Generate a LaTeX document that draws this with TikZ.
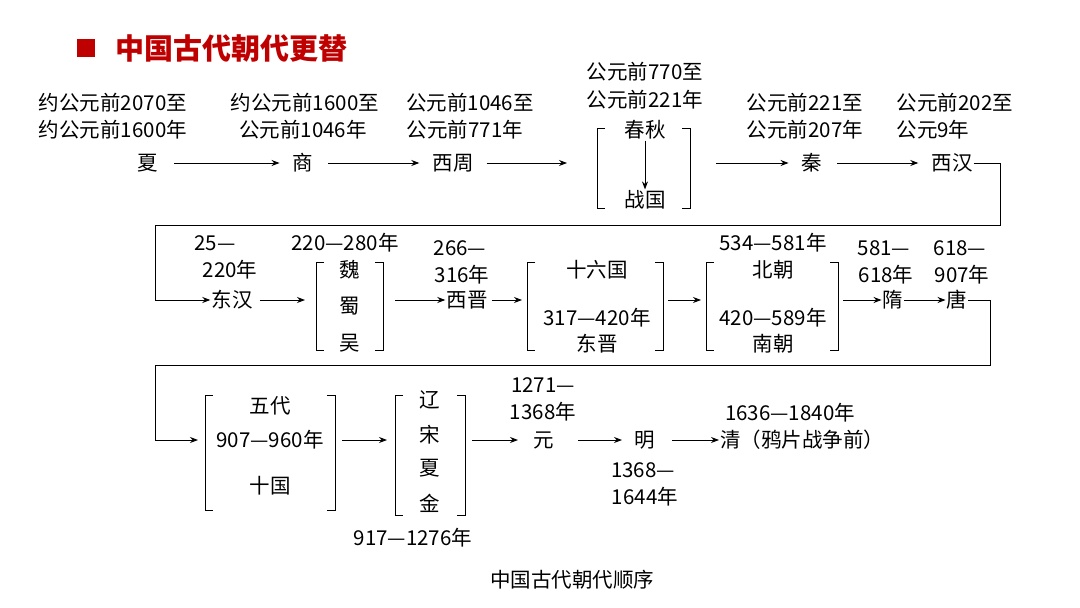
\documentclass[tikz,border=0pt]{standalone}
\usepackage{fontspec}
\setmainfont{Noto Sans CJK SC}
\usetikzlibrary{arrows.meta}
\begin{document}
\begin{tikzpicture}[x=1pt,y=-1pt,
  t/.style={inner sep=1pt,font=\fontsize{20.5}{22}\selectfont},
  ar/.style={-{Stealth[length=8pt,width=6pt]},line width=0.9pt},
  ln/.style={line width=0.9pt}]
\useasboundingbox (0,0) rectangle (1080,608);
\newcommand{\brk}[4]{%
 \draw[ln] (#1+8,#3)--(#1,#3)--(#1,#4)--(#1+8,#4);
 \draw[ln] (#2-8,#3)--(#2,#3)--(#2,#4)--(#2-8,#4);}
% title
\fill[red!75!black] (77,39) rectangle (95,57);
\node[anchor=west,text=red!75!black,font=\fontsize{29}{31}\selectfont\bfseries] (title) at (112,48) {中国古代朝代更替};
% row 1
\node[t] (xia) at (148,163) {夏};
\node[t] at (113,103) {约公元前2070至};
\node[t] at (113,130) {约公元前1600年};
\node[t] (shang) at (303,163) {商};
\node[t] at (305,103) {约公元前1600至};
\node[t] at (303,130) {公元前1046年};
\node[t] (xz) at (453,163) {西周};
\node[t] at (470,103) {公元前1046至};
\node[t] at (465,130) {公元前771年};
\coordinate (b1l) at (597,163);
\node[t] (cq) at (645,130) {春秋};
\node[t] (zg) at (645,200) {战国};
\brk{597}{690}{128}{208}
\coordinate (b1r) at (690,163);
\node[t] at (645,72) {公元前770至};
\node[t] at (645,100) {公元前221年};
\node[t] (qin) at (812,163) {秦};
\node[t] at (805,103) {公元前221至};
\node[t] at (805,130) {公元前207年};
\node[t] (xh) at (952,163) {西汉};
\node[t] at (955,103) {公元前202至};
\node[t] at (933,130) {公元9年};
\draw[ar] (xia.east)++(15,0) -- ([xshift=-12pt]shang.west);
\draw[ar] ([xshift=14pt]shang.east) -- ([xshift=-12pt]xz.west);
\draw[ar] ([xshift=12pt]xz.east) -- ([xshift=-30pt]b1l);
\draw[ar] (cq.south) -- (zg.north);
\draw[ar] ([xshift=26pt]b1r) -- ([xshift=-12pt]qin.west);
\draw[ar] ([xshift=14pt]qin.east) -- ([xshift=-12pt]xh.west);
% row 2
\node[t] (dh) at (232,300) {东汉};
\draw[ln] (xh.east) -- (1000,163) -- (1000,225) -- (155,225) -- (155,300);
\draw[ar] (155,300) -- (dh.west);
\node[t] at (215,243) {25—};
\node[t] at (230,270) {220年};
\node[t] (wei) at (350,270) {魏};
\node[t] (shu) at (350,306) {蜀};
\node[t] (wu) at (350,343) {吴};
\brk{316}{383}{262}{350}
\node[t] at (345,243) {220—280年};
\node[t] (xj) at (467,300) {西晋};
\node[t] at (460,248) {266—};
\node[t] at (462,275) {316年};
\draw[ar] (dh.east)++(6,0) -- (305,300);
\draw[ar] (395,300) -- (xj.west);
\node[t] (slg) at (597,270) {十六国};
\node[t] at (597,318) {317—420年};
\node[t] (dj) at (597,344) {东晋};
\brk{527}{663}{262}{350}
\draw[ar] (xj.east)++(3,0) -- (522,300);
\node[t] (bc) at (773,270) {北朝};
\node[t] at (773,318) {420—589年};
\node[t] (nc) at (773,344) {南朝};
\node[t] at (773,243) {534—581年};
\brk{706}{838}{262}{350}
\draw[ar] (668,300) -- (701,300);
\node[t] (sui) at (893,300) {隋};
\node[t] at (884,248) {581—};
\node[t] at (886,275) {618年};
\node[t] (tang) at (957,300) {唐};
\node[t] at (960,248) {618—};
\node[t] at (962,275) {907年};
\draw[ar] (843,300) -- (sui.west);
\draw[ar] (sui.east) -- (tang.west);
\draw[ln] (tang.east) -- (990,300) -- (990,365) -- (155,365) -- (155,440);
% row 3
\draw[ar] (155,440) -- (198,440);
\node[t] (wd) at (270,406) {五代};
\node[t] at (270,440) {907—960年};
\node[t] (sg) at (270,486) {十国};
\brk{205}{335}{395}{510}
\node[t] (liao) at (430,400) {辽};
\node[t] (song) at (430,435) {宋};
\node[t] (xx) at (430,468) {夏};
\node[t] (jin) at (430,503) {金};
\brk{395}{465}{395}{515}
\node[t] at (413,538) {917—1276年};
\draw[ar] (342,440) -- (387,440);
\node[t] (yuan) at (544,440) {元};
\node[t] at (543,385) {1271—};
\node[t] at (543,412) {1368年};
\draw[ar] (472,440) -- (518,440);
\node[t] (ming) at (645,440) {明};
\node[t] at (643,470) {1368—};
\node[t] at (645,497) {1644年};
\draw[ar] (578,440) -- (622,440);
\node[t,anchor=west] (qing) at (719,440) {清（鸦片战争前）};
\node[t] at (790,413) {1636—1840年};
\draw[ar] (672,440) -- (qing.west);
\node[t] (cap) at (572,580) {中国古代朝代顺序};
\end{tikzpicture}
\end{document}
